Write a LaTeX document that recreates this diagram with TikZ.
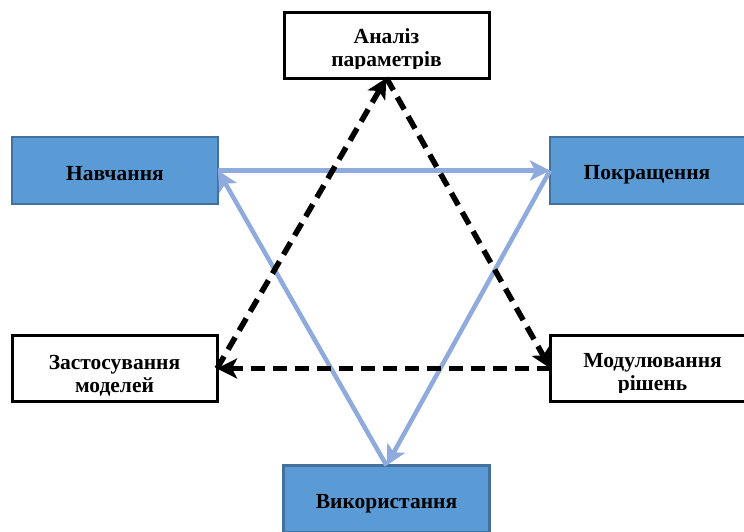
\documentclass[tikz,border=0pt]{standalone}
\usepackage{fontspec}
\setmainfont{Liberation Serif}
\usetikzlibrary{arrows.meta}
\definecolor{boxblue}{HTML}{5B9BD5}
\definecolor{boxedge}{HTML}{41719C}
\definecolor{arrowblue}{HTML}{8FAADC}
\begin{document}
\begin{tikzpicture}[x=1pt,y=-1pt,
  bluebox/.style={draw=boxedge, line width=2.5pt, fill=boxblue, minimum width=206pt, minimum height=67pt, inner sep=0pt, outer sep=0pt},
  whitebox/.style={draw=black, line width=3pt, fill=white, minimum width=205pt, minimum height=66pt, inner sep=0pt, outer sep=0pt},
  lbl/.style={font=\fontsize{21.5}{23}\selectfont\bfseries, inner sep=0pt, anchor=base},
  bluearrow/.style={draw=arrowblue, line width=4.5pt, -{Stealth[length=20pt,width=20pt,inset=5pt]}},
  darrow/.style={draw=black, line width=5.5pt, dash pattern=on 14pt off 8pt, -{Stealth[length=20pt,width=20pt,inset=5pt]}}]
\useasboundingbox (0,0) rectangle (744,531);
\clip (0,0) rectangle (744,531);
% boxes
\node[whitebox] (an) at (386.5,45) {};
\node[bluebox] (nav) at (115,170.5) {};
\node[bluebox] (pok) at (653,170.5) {};
\node[whitebox] (zas) at (114.5,368.5) {};
\node[whitebox] (mod) at (653,368.5) {};
\node[bluebox] (vyk) at (386.5,499) {};
% labels
\begin{scope}
  \clip (287,14) rectangle (486,68.5);
  \node[lbl] (anA) at (386.5,43) {Аналіз};
  \node[lbl] (anB) at (386.5,66) {параметрів};
\end{scope}
\node[lbl] (navT) at (115,180) {Навчання};
\node[lbl] (pokT) at (647,179) {Покращення};
\node[lbl] (zasA) at (114.5,369.5) {Застосування};
\node[lbl] (zasB) at (114.5,392) {моделей};
\begin{scope}
  \clip (553,337) rectangle (744,392.5);
  \node[lbl] (modA) at (652.5,367) {Модулювання};
  \node[lbl] (modB) at (652.5,390.5) {рішень};
\end{scope}
\node[lbl] (vykT) at (386.5,508) {Використання};
% connectors
\draw[bluearrow] (nav.east) -- (pok.west);
\draw[bluearrow] (pok.west) -- (vyk.north);
\draw[bluearrow] (vyk.north) -- (nav.east);
\draw[darrow] (zas.east) -- (an.south);
\draw[darrow] (an.south) -- (mod.west);
\draw[darrow] (mod.west) -- (zas.east);
\end{tikzpicture}
\end{document}
